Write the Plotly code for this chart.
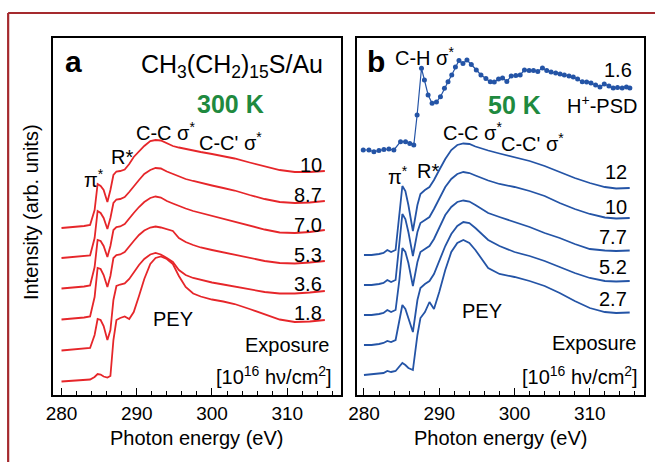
import plotly.graph_objects as go

# ---------------- data ----------------
# Panel a: CH3(CH2)15S/Au at 300 K, PEY spectra, exposure labels
energy_a = [280, 281, 282, 283, 283.8, 284.4, 284.8, 285.2, 285.6, 286.1, 286.5, 286.9,
            287.3, 287.8, 288.4, 289, 289.6, 290.3, 291, 291.8, 292.5, 293.2, 294, 294.8,
            295.6, 296.5, 297.5, 298.5, 300, 301.5, 303, 305, 307, 309, 311, 313, 315]
labels_a = ["10", "8.7", "7.0", "5.3", "3.6", "1.8"]
pey_a_10 = [167, 167.5, 168.5, 169, 170, 185, 211, 209, 205, 193, 205, 220, 223.5, 224, 225.5,
            231, 238, 244, 249, 254, 255, 254.5, 251.5, 249, 247.5, 246, 244.5, 243, 241, 239,
            236.5, 232.5, 228.5, 225, 223, 223, 224]
pey_a_8_7 = [137, 137.5, 138, 138.5, 139.5, 157, 184, 182, 177, 166, 177, 192, 195.5, 196, 198,
             203, 209, 215, 221, 225, 227, 226.5, 223.5, 221, 218.5, 216, 214, 212, 209.5, 207,
             204.5, 200, 196, 193, 192, 192.5, 194]
pey_a_7_0 = [106.5, 107, 108, 108.5, 109.5, 128, 155, 154, 149, 138, 149, 165, 168, 168.5, 171,
             176, 182, 188, 193, 197, 198.5, 197.5, 194, 191.5, 189, 186.5, 184, 182, 179, 176,
             173.5, 169.5, 165.5, 162.5, 162, 163, 165]
pey_a_5_3 = [75.5, 76, 77, 77.5, 78.5, 98, 127, 126, 120, 108, 119, 137, 140, 140.5, 143, 148,
             154, 160, 164.5, 167.5, 168.5, 167.5, 165.5, 164, 157, 153, 150, 147.5, 145, 142.5,
             140, 137, 134, 132, 131.5, 132.5, 134]
pey_a_3_6 = [44.5, 45, 46, 46.5, 47, 60, 76, 75, 69, 55, 65, 95, 109, 110.5, 111.5, 116, 123,
             130, 136, 140.5, 142, 140.5, 137, 133, 125, 120, 117, 115, 112.5, 110.5, 108.5,
             105.5, 103, 101.5, 101.5, 102.5, 104]
pey_a_1_8 = [13.5, 14, 14.5, 15, 15.5, 18, 21, 20.5, 18.5, 17.5, 19, 55, 75, 77, 78.5, 76, 83,
             99, 116, 131, 137, 138.5, 136, 131, 119, 108, 101.5, 98.5, 95.5, 93.5, 91, 86,
             80.5, 75.5, 73, 73.5, 75]

# Panel b: 50 K, PEY spectra and H+-PSD spectrum
energy_b = [280, 281, 282, 282.6, 283.1, 283.6, 284.2, 284.7, 285.1, 285.5, 285.9, 286.5,
            287.1, 287.5, 288.1, 288.7, 289.3, 290, 290.8, 291.6, 292.4, 293.2, 294, 294.8,
            295.6, 296.5, 298, 300, 302, 304, 306, 308, 310, 312, 313.5, 315.3]
labels_b = ["12", "10", "7.7", "5.2", "2.7"]
pey_b_12 = [140, 140, 141, 142, 145, 143, 145, 180, 209, 204, 190, 164, 190, 201, 205, 208, 215,
            225, 236, 245, 250, 251.5, 251, 248.5, 246.5, 244.5, 241.5, 238, 234, 229, 223, 217,
            212, 208, 206.5, 207]
pey_b_10 = [110, 110, 111, 112, 115, 113, 115, 150, 181, 176, 163, 139, 163, 172, 175, 178, 186,
            197, 208, 216, 221, 223, 222, 219.5, 217, 214.5, 211, 208, 204, 199, 192, 186, 181,
            177.5, 176.5, 177]
pey_b_7_7 = [80, 80, 81, 82, 85, 83, 85, 115, 147, 143, 132, 109, 133, 143, 146, 149, 156, 168,
             180, 188, 193, 194.5, 193.5, 190, 186, 182, 178, 173, 168, 162, 157, 151, 146,
             144.5, 144, 144.5]
pey_b_5_2 = [50, 50, 51, 52, 54, 53, 55, 73, 90, 86, 77, 63, 95, 107, 111, 114, 121, 135, 149,
             161, 169, 173, 172, 167, 161, 155, 149, 143, 139, 134, 128, 122, 117, 114, 113.5, 114]
pey_b_2_7 = [20, 20.5, 21, 22, 24, 23, 24, 29, 32, 30, 27, 25, 60, 77, 83, 93, 86, 103, 125, 143,
             152, 155, 152, 145, 136, 127, 121, 118, 114, 109, 102, 94, 87, 83, 82, 82.5]

energy_psd = [279.9, 280.66, 281.32, 281.99, 282.65, 283.31, 283.97, 284.86, 285.52, 286.09,
              286.62, 287.06, 287.64, 288.03, 288.52, 289.05, 289.63, 290.16, 290.69, 291.17,
              291.66, 292.15, 292.62, 293.15, 293.68, 294.26, 294.92, 295.54, 296.2, 296.78,
              297.31, 297.88, 298.41, 298.98, 299.56, 300.17, 300.75, 301.32, 301.94, 302.52,
              303.09, 303.71, 304.28, 304.86, 305.47, 306.05, 306.62, 307.24, 307.81, 308.38,
              309.0, 309.58, 310.16, 310.77, 311.35, 311.92, 312.54, 313.11, 313.68, 314.3,
              314.87, 315.32]
psd_1_6 = [245, 245, 243.3, 244.5, 245.5, 246, 245, 253.3, 253.3, 251.5, 250, 280, 326.7, 315,
           300, 291.7, 293, 298.3, 306.7, 313.3, 320, 328, 334.5, 331.5, 335, 330.5, 325, 320,
           316.5, 313.3, 313, 316, 317, 313.5, 319, 319.5, 320, 325, 324.5, 324.5, 323.5, 327,
           324.5, 323, 322, 321, 320, 319, 318, 316, 313.3, 313, 312, 310, 308, 311, 309, 307,
           307.5, 307, 308, 307]

# ---------------- styling ----------------
FONT = "Liberation Sans, Arial, Helvetica, sans-serif"
RED = "#e6262a"
BLUE = "#2454a6"
GREEN = "#1f8a3f"
FRAME = "#a52a2e"

W, H = 655, 462
ML, MR, MT, MB = 53, 9, 38, 67
PW, PH = W - ML - MR, H - MT - MB


def P(x, y):
    """pixel position -> paper coordinates (for text/frame placement)"""
    return (x - ML) / PW, (H - MB - y) / PH


fig = go.Figure()

series_a = [pey_a_10, pey_a_8_7, pey_a_7_0, pey_a_5_3, pey_a_3_6, pey_a_1_8]
for lab, ys in zip(labels_a, series_a):
    fig.add_trace(go.Scatter(x=energy_a, y=ys, mode="lines", name=lab,
                             line=dict(color=RED, width=1.8), xaxis="x", yaxis="y",
                             showlegend=False))

series_b = [pey_b_12, pey_b_10, pey_b_7_7, pey_b_5_2, pey_b_2_7]
for lab, ys in zip(labels_b, series_b):
    fig.add_trace(go.Scatter(x=energy_b, y=ys, mode="lines", name=lab,
                             line=dict(color=BLUE, width=1.8), xaxis="x2", yaxis="y2",
                             showlegend=False))

fig.add_trace(go.Scatter(x=energy_psd, y=psd_1_6, mode="lines+markers", name="H+-PSD 1.6",
                         line=dict(color=BLUE, width=1.2), marker=dict(color=BLUE, size=5),
                         xaxis="x2", yaxis="y2", showlegend=False))

xcommon = dict(showline=True, linecolor="black", linewidth=1.6, mirror=True,
               ticks="inside", ticklen=7, tickwidth=1.3, tickcolor="black",
               tick0=280, dtick=10, showgrid=False, zeroline=False,
               tickfont=dict(family=FONT, size=19, color="black"),
               minor=dict(ticks="inside", ticklen=4, tickwidth=1.2, tickcolor="black",
                          dtick=2, tick0=280, showgrid=False))
ycommon = dict(showline=True, linecolor="black", linewidth=1.6, mirror=True,
               ticks="", showticklabels=False, showgrid=False, zeroline=False,
               range=[0, PH])

fig.update_layout(
    width=W, height=H,
    margin=dict(l=ML, r=MR, t=MT, b=MB),
    paper_bgcolor="white", plot_bgcolor="white",
    font=dict(family=FONT, color="black"),
    xaxis=dict(domain=[0, (342 - ML) / PW], range=[278.87, 317.15], anchor="y", **xcommon),
    xaxis2=dict(domain=[(358 - ML) / PW, 1], range=[279.07, 317.2], anchor="y2", **xcommon),
    yaxis=dict(domain=[0, 1], anchor="x", **ycommon),
    yaxis2=dict(domain=[0, 1], anchor="x2", **ycommon),
)

# outer frame (dark red lines at left and top)
x0, y0 = P(8, 13)
_, ybot = P(8, 470)
x1, _ = P(660, 13)
fig.add_shape(type="line", xref="paper", yref="paper", x0=x0, y0=y0, x1=x0, y1=ybot,
              line=dict(color=FRAME, width=2.2))
fig.add_shape(type="line", xref="paper", yref="paper", x0=x0, y0=y0, x1=x1, y1=y0,
              line=dict(color=FRAME, width=2.2))


def txt(text, x, y, size=20, xa="center", ya="middle", color="black", bold=False, angle=0):
    px, py = P(x, y)
    if bold:
        text = "<b>" + text + "</b>"
    fig.add_annotation(text=text, x=px, y=py, xref="paper", yref="paper",
                       xanchor=xa, yanchor=ya, showarrow=False, textangle=angle,
                       font=dict(family=FONT, size=size, color=color))


# panel a texts
txt("a", 73.5, 61.5, size=30, bold=True)
txt("CH<sub>3</sub>(CH<sub>2</sub>)<sub>15</sub>S/Au", 326, 66, size=25, xa="right")
txt("300 K", 231, 103.5, size=25, bold=True, color=GREEN)
txt("C-C σ<sup>*</sup>", 134, 131, xa="left")
txt("C-C' σ<sup>*</sup>", 197, 141, xa="left")
txt("R*", 109, 157, xa="left")
txt("π<sup>*</sup>", 82, 178, xa="left")
for lab, yy in zip(labels_a, [165, 195, 225, 255, 284, 313]):
    txt(lab, 325, yy, xa="right")
txt("PEY", 173, 319)
txt("Exposure", 333, 344.5, xa="right")
txt("[10<sup>16</sup> hν/cm<sup>2</sup>]", 335, 375, xa="right")

# panel b texts
txt("b", 377.5, 61.5, size=30, bold=True)
txt("C-H σ<sup>*</sup>", 394, 56, xa="left")
txt("1.6", 636, 70, xa="right")
txt("50 K", 516, 105, size=25, bold=True, color=GREEN)
txt("H<sup>+</sup>-PSD", 641, 104, xa="right")
txt("C-C σ<sup>*</sup>", 442, 131, xa="left")
txt("C-C' σ<sup>*</sup>", 501, 142, xa="left")
txt("π<sup>*</sup>", 387, 176, xa="left")
txt("R*", 416, 170.5, xa="left")
for lab, yy in zip(labels_b, [172, 207, 237, 267, 299]):
    txt(lab, 631, yy, xa="right")
txt("PEY", 483, 310.5)
txt("Exposure", 641, 342.5, xa="right")
txt("[10<sup>16</sup> hν/cm<sup>2</sup>]", 642, 375, xa="right")

# axis titles
txt("Photon energy (eV)", 197, 438, size=20)
txt("Photon energy (eV)", 502, 438, size=20)
txt("Intensity (arb. units)", 31, 212, size=20, angle=-90)

fig.write_html("out.html")
